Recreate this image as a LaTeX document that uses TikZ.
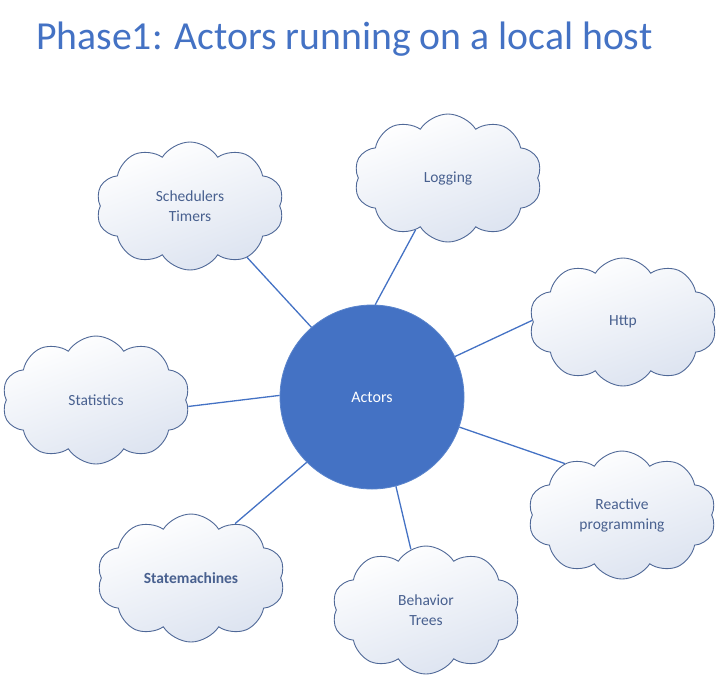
\documentclass[tikz,border=0pt]{standalone}
\usepackage{fontspec}
\setmainfont{Carlito}
\usetikzlibrary{shapes.symbols}
\definecolor{titleblue}{HTML}{4472C4}
\definecolor{circfill}{HTML}{4472C4}
\definecolor{circedge}{HTML}{5A84CC}
\definecolor{cloudedge}{HTML}{4F6897}
\definecolor{cloudtext}{HTML}{48608F}
\definecolor{cloudlow}{HTML}{DCE3F0}
\definecolor{linkblue}{HTML}{4472C4}
\tikzset{
  cloudbox/.style={cloud, cloud puffs=10, cloud puff arc=115, cloud ignores aspect,
    minimum width=188pt, minimum height=128pt, draw=cloudedge, line width=0.9pt,
    top color=white, bottom color=cloudlow, shading angle=20,
    text=cloudtext, align=center, font=\fontsize{15.5}{20}\selectfont, inner sep=0pt},
  hub/.style={circle, minimum size=184pt, fill=circfill, draw=circedge, line width=0.8pt,
    text=white, font=\fontsize{16}{19}\selectfont},
  link/.style={draw=linkblue, line width=1.3pt},
  titletext/.style={text=titleblue, font=\fontsize{39.7}{46}\selectfont, anchor=base west, inner sep=0pt}
}
\begin{document}
\begin{tikzpicture}[x=1pt,y=-1pt]
\useasboundingbox (0,0) rectangle (719,681);
\node[titletext] (title) at (36,49) {Phase1: Actors running on a local host};
\node[cloudbox] (sched) at (190,206) {Schedulers\\Timers};
\node[cloudbox] (log) at (448,178) {Logging};
\node[cloudbox] (http) at (623,322) {Http};
\node[cloudbox] (stats) at (96,400) {Statistics};
\node[cloudbox] (react) at (622,515) {Reactive\\programming};
\node[cloudbox] (behav) at (426,610) {Behavior\\Trees};
\node[cloudbox, font=\fontsize{15.5}{20}\selectfont\bfseries] (statem) at (191,578) {Statemachines};
\node[hub] (act) at (372,397) {Actors};
\draw[link] (act.131) -- (sched.-42);
\draw[link] (act.88) -- (log.-122);
\draw[link] (act.26) -- (http.179);
\draw[link] (act.179) -- (stats.-4);
\draw[link] (act.-19) -- (react.138);
\draw[link] (act.-75) -- (behav.104);
\draw[link] (act.-135) -- (statem.51);
\end{tikzpicture}
\end{document}
